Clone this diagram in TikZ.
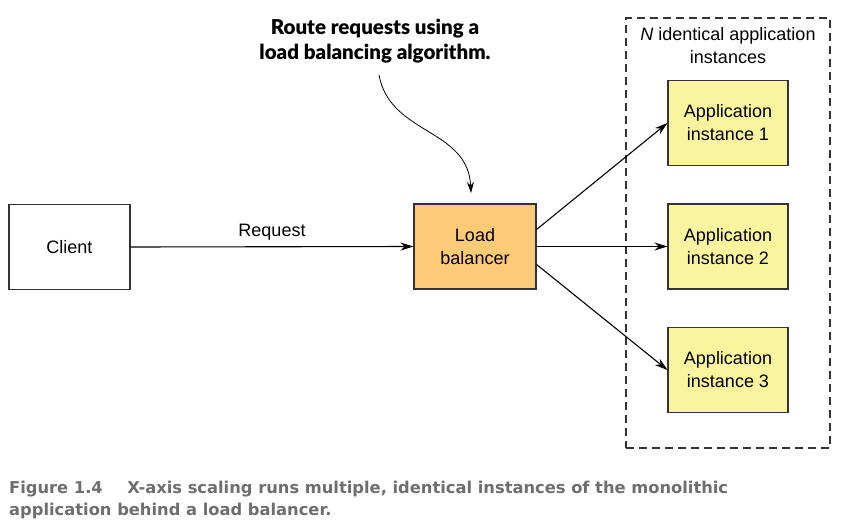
\documentclass[tikz,border=0pt]{standalone}
\usepackage{fontspec}
\setmainfont{Liberation Sans}
\newfontfamily\notefont{Lato}[BoldFont={* Black}]
\newfontfamily\capfont{DejaVu Sans}
\usetikzlibrary{arrows.meta}
\definecolor{lbfill}{HTML}{FDCA77}
\definecolor{appfill}{HTML}{FBF49E}
\definecolor{edge}{HTML}{333333}
\definecolor{capgray}{HTML}{6E6E6E}
\tikzset{
  box/.style={draw=edge, line width=1.1pt, minimum width=121pt, minimum height=85pt,
    align=center, font=\fontsize{18}{23}\selectfont, inner sep=0pt},
  arr/.style={draw=black, line width=1.1pt, -{Stealth[length=13pt,width=8pt]}},
}
\begin{document}
\begin{tikzpicture}[x=1pt,y=-1pt]
\useasboundingbox (0,0) rectangle (846,530);
% dashed container
\node[draw=edge, dash pattern=on 8pt off 5pt, line width=1.1pt, minimum width=204pt, minimum height=430pt, inner sep=0pt] (grp) at (728,233) {};
\node[align=center, font=\fontsize{18}{23}\selectfont, text=black] (grplbl) at (728,46) {\textit{N} identical application\\instances};
% boxes
\node[box, fill=white] (client) at (69.5,247) {Client};
\node[box, fill=lbfill, minimum width=122pt] (lb) at (475,246.5) {Load\\balancer};
\node[box, fill=appfill, minimum width=120pt] (app1) at (728,123) {Application\\instance 1};
\node[box, fill=appfill, minimum width=120pt] (app2) at (728,246.5) {Application\\instance 2};
\node[box, fill=appfill, minimum width=120pt] (app3) at (728,370) {Application\\instance 3};
% request
\draw[arr] (client.east) -- node[above=3pt, font=\fontsize{18}{23}\selectfont] {Request} (lb.west);
% fan out
\draw[arr] ([yshift=17pt]lb.east) -- (app1.west);
\draw[arr] (lb.east) -- (app2.west);
\draw[arr] ([yshift=-18pt]lb.east) -- (app3.west);
% annotation
\node[align=center, font=\notefont\bfseries\fontsize{20.5}{25.5}\selectfont] (note) at (375,41) {Route requests using a\\load balancing algorithm.};
\coordinate (ns) at (379,75);
\coordinate (ne) at (471,193);
\draw[line width=0.8pt, -{Stealth[length=11pt,width=7pt]}] (ns) .. controls (390,135) and (468,128) .. (ne);
% caption
\node[anchor=north west, align=left, text=capgray, font=\capfont\bfseries\fontsize{16.3}{22}\selectfont, inner sep=0pt] (cap) at (9,481) {Figure 1.4\hspace{1.5em}X-axis scaling runs multiple, identical instances of the monolithic\\application behind a load balancer.};
\end{tikzpicture}
\end{document}
